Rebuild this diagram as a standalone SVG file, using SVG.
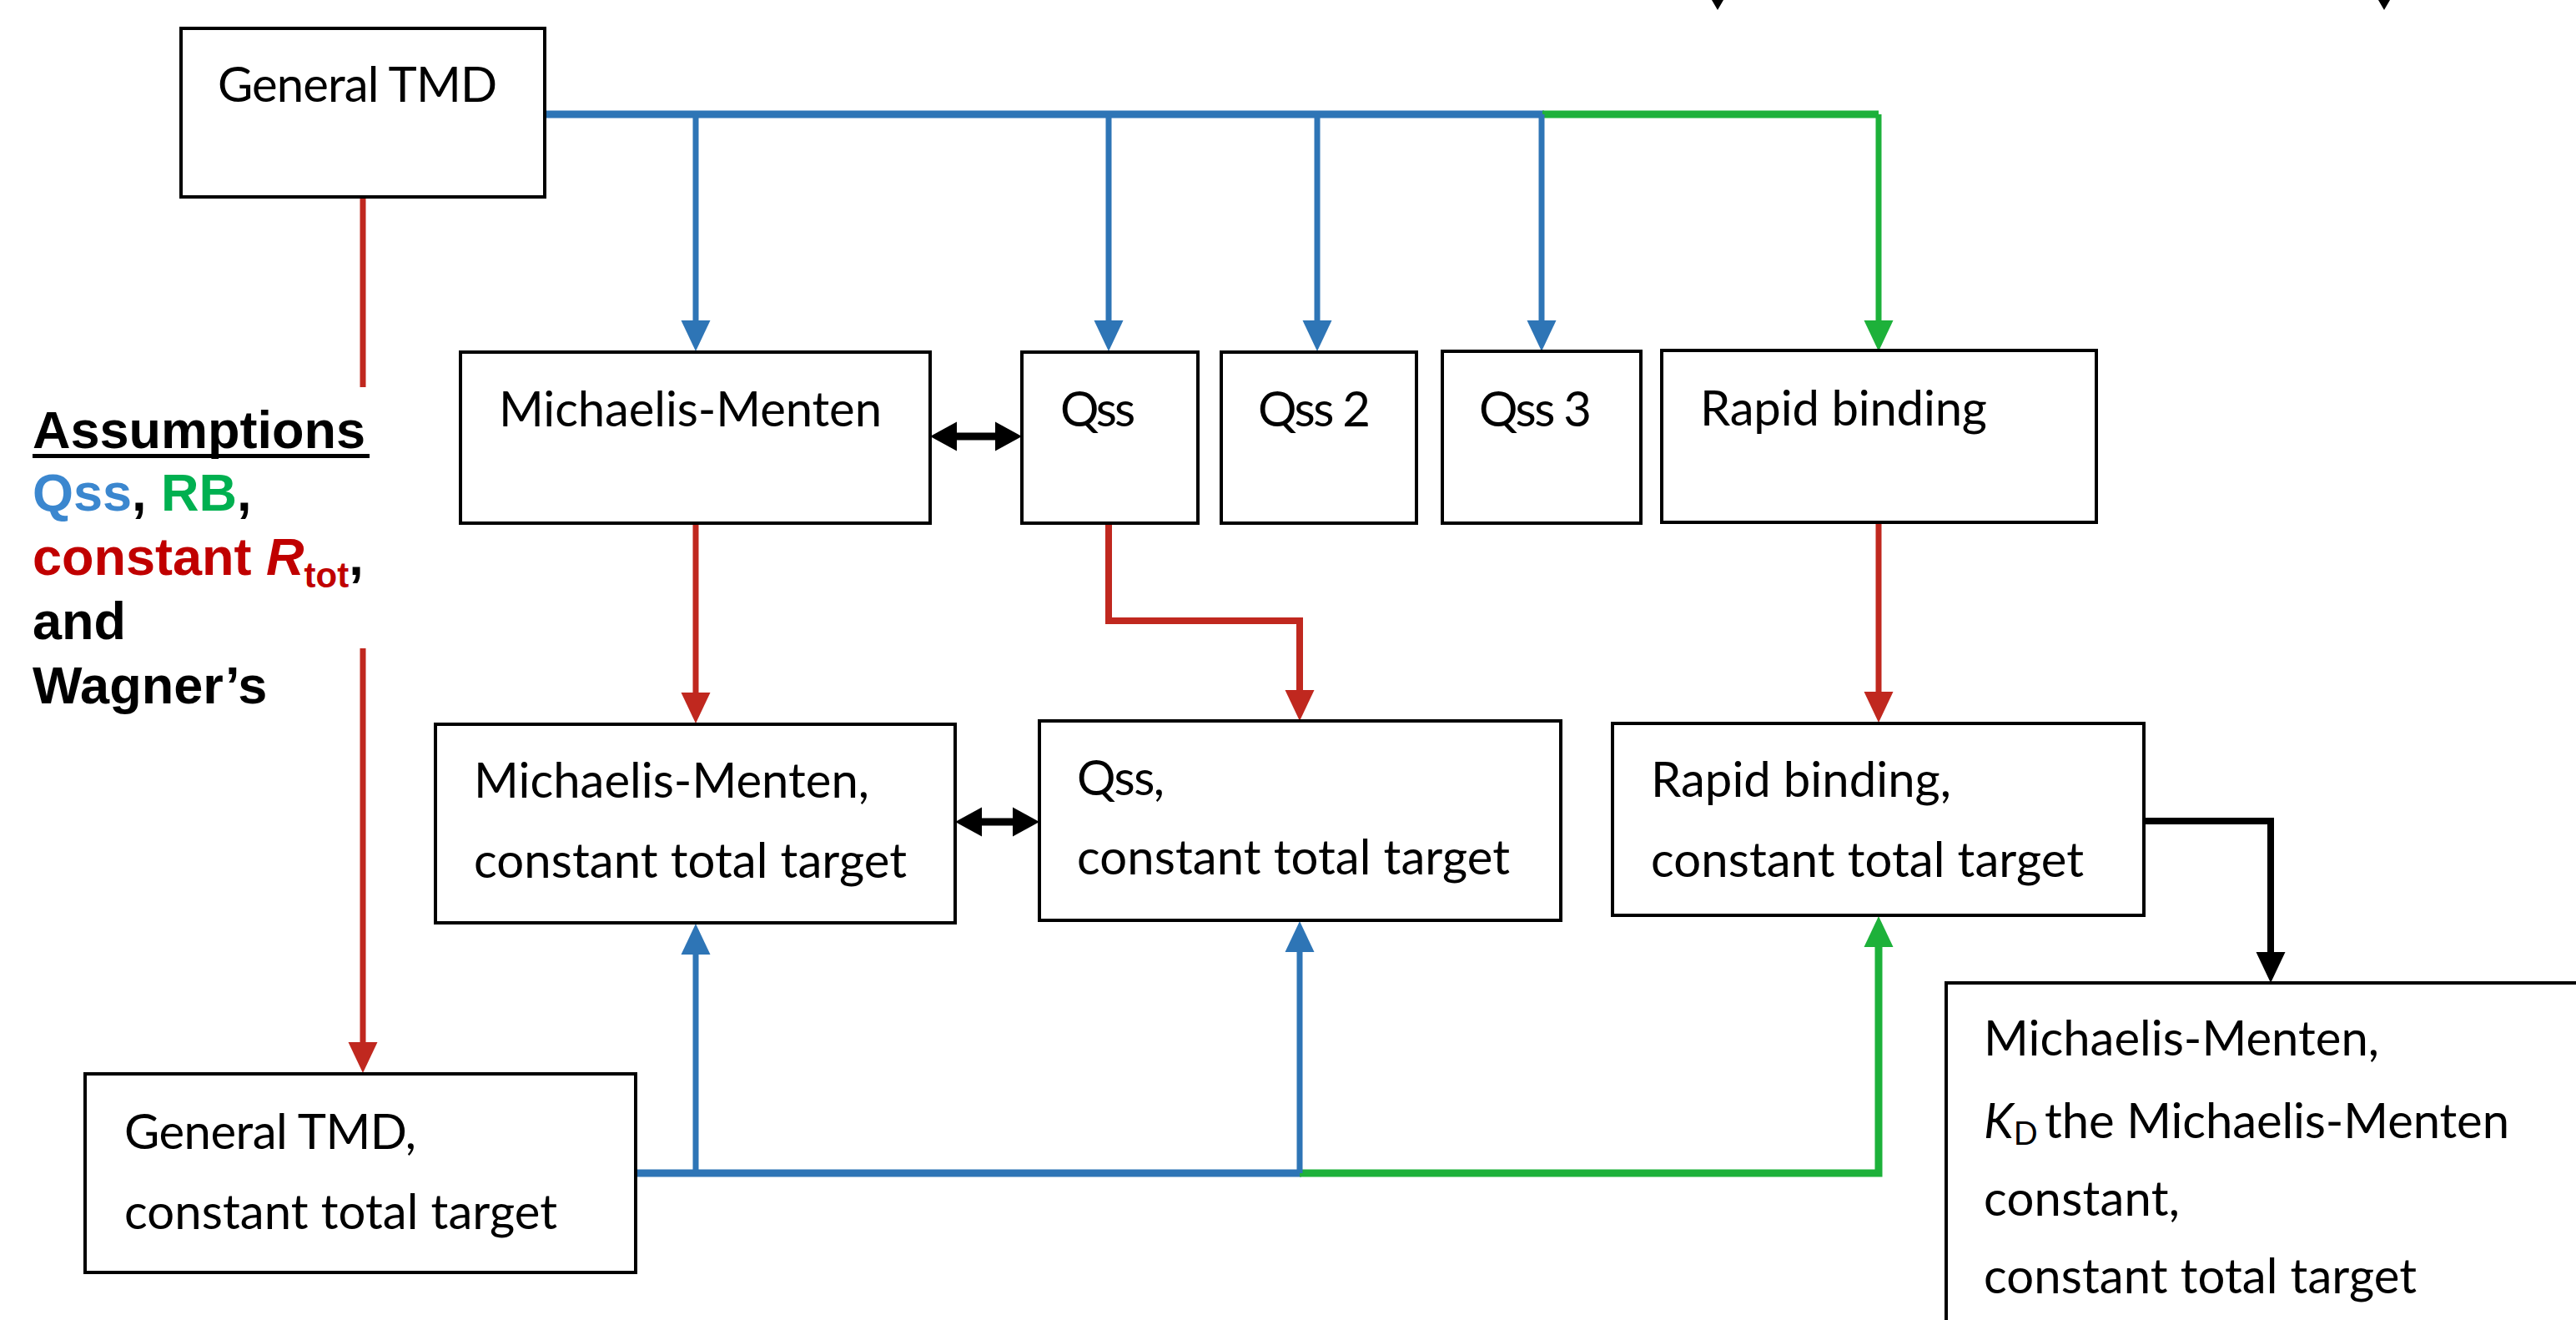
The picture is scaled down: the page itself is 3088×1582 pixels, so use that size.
<svg xmlns="http://www.w3.org/2000/svg" width="3088" height="1582" viewBox="0 0 3088 1582">
<style>
.box{fill:#fff;stroke:#000;stroke-width:4}
.lbl{font-family:Lato,"Open Sans","Liberation Sans",sans-serif;font-size:58px;fill:#000}
.blue{stroke:#2e75b6;fill:none}
.green{stroke:#1db13a;fill:none}
.red{stroke:#c0281f;fill:none}
.blk{stroke:#000;fill:none}
.asm{font-family:"Liberation Sans",Arial,sans-serif;font-weight:bold;font-size:63px;fill:#000}
</style>
<defs>
<marker id="aBlue" markerUnits="userSpaceOnUse" markerWidth="37" markerHeight="36" viewBox="0 -18 37 36" refX="0" refY="0" orient="auto"><path d="M0,-17.5 L37,0 L0,17.5 z" fill="#2e75b6"/></marker>
<marker id="aGreen" markerUnits="userSpaceOnUse" markerWidth="37" markerHeight="36" viewBox="0 -18 37 36" refX="0" refY="0" orient="auto"><path d="M0,-17.5 L37,0 L0,17.5 z" fill="#1db13a"/></marker>
<marker id="aRed" markerUnits="userSpaceOnUse" markerWidth="37" markerHeight="36" viewBox="0 -18 37 36" refX="0" refY="0" orient="auto"><path d="M0,-17.5 L37,0 L0,17.5 z" fill="#c0281f"/></marker>
<marker id="aBlk" markerUnits="userSpaceOnUse" markerWidth="37" markerHeight="36" viewBox="0 -18 37 36" refX="0" refY="0" orient="auto"><path d="M0,-17.5 L37,0 L0,17.5 z" fill="#000"/></marker>
<marker id="aDbl" markerUnits="userSpaceOnUse" markerWidth="32" markerHeight="36" viewBox="0 -18 32 36" refX="0" refY="0" orient="auto-start-reverse"><path d="M0,-17.5 L32,0 L0,17.5 z" fill="#000"/></marker>
</defs>
<rect width="3088" height="1582" fill="#fff"/>

<g id="connectors">
  <path class="blue" stroke-width="9" d="M654,137 H1851"/>
  <path class="green" stroke-width="9" d="M1849,137 H2252"/>
  <path class="green" stroke-width="7" d="M2252,137 V384" marker-end="url(#aGreen)"/>
  <path class="blue" stroke-width="7" d="M834,137 V384" marker-end="url(#aBlue)"/>
  <path class="blue" stroke-width="7" d="M1329,137 V384" marker-end="url(#aBlue)"/>
  <path class="blue" stroke-width="7" d="M1579,137 V384" marker-end="url(#aBlue)"/>
  <path class="blue" stroke-width="7" d="M1848,137 V384" marker-end="url(#aBlue)"/>

  <path class="red" stroke-width="7" d="M435,237 V464"/>
  <path class="red" stroke-width="7" d="M435,777 V1249" marker-end="url(#aRed)"/>
  <path class="red" stroke-width="7" d="M834,628 V830" marker-end="url(#aRed)"/>
  <path class="red" stroke-width="8" d="M1329,628 V744 H1558 V827" marker-end="url(#aRed)"/>
  <path class="red" stroke-width="7" d="M2252,626 V829" marker-end="url(#aRed)"/>

  <path class="blk" stroke-width="9" d="M1147,523 H1193" marker-start="url(#aDbl)" marker-end="url(#aDbl)"/>
  <path class="blk" stroke-width="9" d="M1177,985 H1214" marker-start="url(#aDbl)" marker-end="url(#aDbl)"/>

  <path class="blue" stroke-width="9" d="M762,1406 H1560"/>
  <path class="green" stroke-width="9" d="M1558,1406 H2252 V1135" marker-end="url(#aGreen)"/>
  <path class="blue" stroke-width="7" d="M834,1406 V1144" marker-end="url(#aBlue)"/>
  <path class="blue" stroke-width="7" d="M1558,1406 V1141" marker-end="url(#aBlue)"/>

  <path class="blk" stroke-width="8" d="M2570,984 H2722 V1141" marker-end="url(#aBlk)"/>

  <path d="M2052,0 H2066 L2059,12 Z" fill="#000"/>
  <path d="M2851,0 H2865 L2858,12 Z" fill="#000"/>
</g>

<g id="general-tmd">
  <rect class="box" x="217" y="34" width="436" height="202"/>
  <text class="lbl" x="261" y="122" textLength="335">General TMD</text>
</g>

<g id="michaelis-menten">
  <rect class="box" x="552" y="422" width="563" height="205"/>
  <text class="lbl" x="598" y="511" textLength="459">Michaelis-Menten</text>
</g>

<g id="qss">
  <rect class="box" x="1225" y="422" width="211" height="205"/>
  <text class="lbl" x="1271" y="511" textLength="90">Qss</text>
</g>

<g id="qss2">
  <rect class="box" x="1464" y="422" width="234" height="205"/>
  <text class="lbl" x="1508" y="511" textLength="135">Qss 2</text>
</g>

<g id="qss3">
  <rect class="box" x="1729" y="421" width="238" height="206"/>
  <text class="lbl" x="1773" y="511" textLength="135">Qss 3</text>
</g>

<g id="rapid-binding">
  <rect class="box" x="1992" y="420" width="521" height="206"/>
  <text class="lbl" x="2038" y="510" textLength="344">Rapid binding</text>
</g>

<g id="mm-const">
  <rect class="box" x="522" y="868" width="623" height="238"/>
  <text class="lbl" x="568" y="956" textLength="474">Michaelis-Menten,</text>
  <text class="lbl" x="568" y="1052" textLength="519">constant total target</text>
</g>

<g id="qss-const">
  <rect class="box" x="1246" y="864" width="625" height="239"/>
  <text class="lbl" x="1291" y="953" textLength="105">Qss,</text>
  <text class="lbl" x="1291" y="1048" textLength="519">constant total target</text>
</g>

<g id="rb-const">
  <rect class="box" x="1933" y="867" width="637" height="230"/>
  <text class="lbl" x="1979" y="955" textLength="360">Rapid binding,</text>
  <text class="lbl" x="1979" y="1051" textLength="519">constant total target</text>
</g>

<g id="gtmd-const">
  <rect class="box" x="102" y="1287" width="660" height="238"/>
  <text class="lbl" x="149" y="1377" textLength="350">General TMD,</text>
  <text class="lbl" x="149" y="1473" textLength="519">constant total target</text>
</g>

<g id="mm-kd">
  <rect class="box" x="2333" y="1178" width="800" height="500"/>
  <text class="lbl" x="2378" y="1265" textLength="474">Michaelis-Menten,</text>
  <text class="lbl" x="2378" y="1364"><tspan font-style="italic">K</tspan><tspan font-size="38" dy="8">D</tspan></text>
  <text class="lbl" x="2451" y="1364" textLength="557">the Michaelis-Menten</text>
  <text class="lbl" x="2378" y="1457" textLength="235">constant,</text>
  <text class="lbl" x="2378" y="1550" textLength="519">constant total target</text>
</g>

<g id="assumptions">
  <text class="asm" x="39" y="537">Assumptions</text>
  <line x1="39" y1="546.5" x2="443" y2="546.5" stroke="#000" stroke-width="5"/>
  <text class="asm" x="39" y="612"><tspan fill="#3b87cf">Qss</tspan>, <tspan fill="#00b050">RB</tspan>,</text>
  <text class="asm" x="39" y="689"><tspan fill="#c00000">constant </tspan><tspan fill="#c00000" font-style="italic">R</tspan><tspan fill="#c00000" font-size="42" dy="15">tot</tspan><tspan dy="-15">,</tspan></text>
  <text class="asm" x="39" y="766">and</text>
  <text class="asm" x="39" y="843">Wagner’s</text>
</g>
</svg>
